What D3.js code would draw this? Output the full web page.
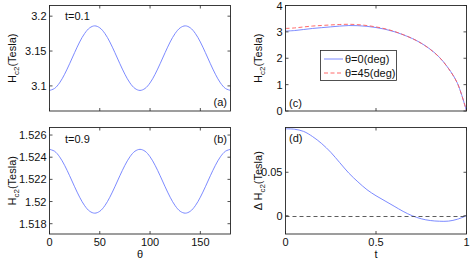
<!DOCTYPE html>
<html><head><meta charset="utf-8">
<script src="https://cdn.jsdelivr.net/npm/d3@7"></script>
<style>body{margin:0;background:#fff}svg{display:block}text{font-family:"Liberation Sans",Arial,sans-serif;fill:#111}</style>
</head><body><svg id="c" width="471" height="259"></svg>
<script>
// ---- data ----
const theta = d3.range(0, 181, 5);
const hA = [3.0935,3.0963,3.1043,3.1167,3.1318,3.1478,3.1630,3.1753,3.1833,3.1861,3.1833,3.1753,3.1630,3.1478,3.1318,3.1167,3.1043,3.0963,
            3.0935,3.0963,3.1043,3.1167,3.1318,3.1478,3.1630,3.1753,3.1833,3.1861,3.1833,3.1753,3.1630,3.1478,3.1318,3.1167,3.1043,3.0963,3.0935];
const hB = [1.52471,1.52454,1.52404,1.52327,1.52233,1.52133,1.52039,1.51962,1.51912,1.51895,1.51912,1.51962,1.52039,1.52133,1.52233,1.52327,1.52404,1.52454,
            1.52471,1.52454,1.52404,1.52327,1.52233,1.52133,1.52039,1.51962,1.51912,1.51895,1.51912,1.51962,1.52039,1.52133,1.52233,1.52327,1.52404,1.52454,1.52471];
const tVals = [0,0.05,0.1,0.15,0.2,0.25,0.3,0.35,0.4,0.45,0.5,0.55,0.6,0.65,0.7,0.75,0.8,0.85,0.9,0.95,1];
const hc2_0  = [3.03,3.05,3.09,3.13,3.16,3.19,3.22,3.24,3.235,3.21,3.165,3.10,3.01,2.89,2.75,2.57,2.34,2.04,1.62,1.05,0];
const hc2_45 = [3.13,3.1495,3.187,3.221,3.243,3.263,3.28,3.288,3.273,3.24,3.188,3.117,3.021,2.895,2.75,2.5665,2.3345,2.0337,1.6138,1.046,0];
const dHc2   = [0.1,0.0995,0.097,0.091,0.083,0.073,0.061,0.049,0.039,0.030,0.023,0.017,0.011,0.005,0.0,-0.0035,-0.0055,-0.0063,-0.0062,-0.004,0];
const thetaTicks = [0,50,100,150];
const tTicks = [0,0.5,1];
const yTicksA = [3.1,3.15,3.2];
const yTicksB = [1.518,1.52,1.522,1.524,1.526];
const yTicksC = [0,1,2,3,4];
const yTicksD = [0,0.05];
const legendLabels = ["θ=0(deg)","θ=45(deg)"];

const svg = d3.select("#c");
svg.append("rect").attr("width",471).attr("height",259).attr("fill","#fff");
const BLUE = "#6d7dff", RED = "#ff5a5a", AX = "#262626";

function panel(opt){
  const g = svg.append("g");
  const x = d3.scaleLinear().domain(opt.xd).range([opt.x0, opt.x1]);
  const y = d3.scaleLinear().domain(opt.yd).range([opt.y1, opt.y0]);
  const tl = 3;
  opt.series.forEach(s=>{
    const line = d3.line().x((d,i)=>x(s.xs[i])).y(d=>y(d)).curve(d3.curveCatmullRom);
    g.append("path").attr("d", line(s.ys)).attr("fill","none").attr("stroke",s.color)
      .attr("stroke-width",0.9).attr("stroke-dasharray", s.dash||null);
  });
  if(opt.zero){
    g.append("line").attr("x1",x(opt.xd[0])).attr("x2",x(opt.xd[1])).attr("y1",Math.round(y(0))+0.5).attr("y2",Math.round(y(0))+0.5)
      .attr("stroke","#333").attr("stroke-width",0.8).attr("stroke-dasharray","4,3");
  }
  g.append("rect").attr("x",opt.x0).attr("y",opt.y0).attr("width",opt.x1-opt.x0).attr("height",opt.y1-opt.y0)
    .attr("fill","none").attr("stroke",AX).attr("stroke-width",0.9);
  opt.xt.forEach(v=>{
    const px = x(v);
    g.append("line").attr("x1",px).attr("x2",px).attr("y1",opt.y1).attr("y2",opt.y1-tl).attr("stroke",AX).attr("stroke-width",0.8);
    g.append("line").attr("x1",px).attr("x2",px).attr("y1",opt.y0).attr("y2",opt.y0+tl).attr("stroke",AX).attr("stroke-width",0.8);
    if(opt.xlabels) g.append("text").attr("x",px).attr("y",opt.y1+12).attr("text-anchor","middle").attr("font-size",11).text(d3.format("~g")(v));
  });
  opt.yt.forEach(v=>{
    const py = y(v);
    g.append("line").attr("x1",opt.x0).attr("x2",opt.x0+tl).attr("y1",py).attr("y2",py).attr("stroke",AX).attr("stroke-width",0.8);
    g.append("line").attr("x1",opt.x1).attr("x2",opt.x1-tl).attr("y1",py).attr("y2",py).attr("stroke",AX).attr("stroke-width",0.8);
    g.append("text").attr("x",opt.x0-3).attr("y",py+4).attr("text-anchor","end").attr("font-size",11).text(d3.format("~g")(v));
  });
  const cy = (opt.y0+opt.y1)/2;
  const lab = g.append("text").attr("transform",`translate(${opt.lx},${cy}) rotate(-90)`).attr("text-anchor","middle").attr("font-size",11);
  lab.append("tspan").text(opt.delta ? "Δ H" : "H");
  lab.append("tspan").attr("font-size",8).attr("dy",3).text("c2");
  lab.append("tspan").attr("dy",-3).text("(Tesla)");
  if(opt.xname) g.append("text").attr("x",(opt.x0+opt.x1)/2).attr("y",opt.y1+24).attr("text-anchor","middle").attr("font-size",11).text(opt.xname);
  (opt.notes||[]).forEach(n=>{
    g.append("text").attr("x",n[0]).attr("y",n[1]).attr("font-size",11).attr("text-anchor",n[3]||"start").text(n[2]);
  });
  return {g,x,y};
}

const L0=49.5, L1=230.5, R0=285.5, R1=466.5, T0=5.5, T1=111, B0=127.5, B1=234;

panel({x0:L0,x1:L1,y0:T0,y1:T1,xd:[0,180],yd:[3.064,3.2153],xt:thetaTicks,yt:yTicksA,xlabels:false,lx:16,
  series:[{xs:theta,ys:hA,color:BLUE}], notes:[[65,20,"t=0.1"],[227,106,"(a)","end"]]});
panel({x0:L0,x1:L1,y0:B0,y1:B1,xd:[0,180],yd:[1.51707,1.52668],xt:thetaTicks,yt:yTicksB,xlabels:true,lx:16,xname:"θ",
  series:[{xs:theta,ys:hB,color:BLUE}], notes:[[65,143,"t=0.9"],[227,143,"(b)","end"]]});
panel({x0:R0,x1:R1,y0:T0,y1:T1,xd:[0,1],yd:[0,4],xt:tTicks,yt:yTicksC,xlabels:false,lx:262,
  series:[{xs:tVals,ys:hc2_0,color:BLUE},{xs:tVals,ys:hc2_45,color:RED,dash:"4,2.5"}], notes:[[289,107,"(c)"]]});
panel({x0:R0,x1:R1,y0:B0,y1:B1,xd:[0,1],yd:[-0.021,0.1015],xt:tTicks,yt:yTicksD,xlabels:true,lx:262,xname:"t",delta:true,zero:true,
  series:[{xs:tVals,ys:dHc2,color:BLUE}], notes:[[289,142,"(d)"]]});

const lg = svg.append("g");
lg.append("rect").attr("x",320.5).attr("y",50.5).attr("width",76).attr("height",30).attr("fill","#fff").attr("stroke",AX).attr("stroke-width",0.8);
[[BLUE,null],[RED,"4,2.5"]].forEach((s,i)=>{
  const yy = 59 + i*14;
  lg.append("line").attr("x1",324).attr("x2",343).attr("y1",yy).attr("y2",yy).attr("stroke",s[0]).attr("stroke-width",0.9).attr("stroke-dasharray",s[1]);
  lg.append("text").attr("x",345).attr("y",yy+4).attr("font-size",11).text(legendLabels[i]);
});
</script></body></html>
